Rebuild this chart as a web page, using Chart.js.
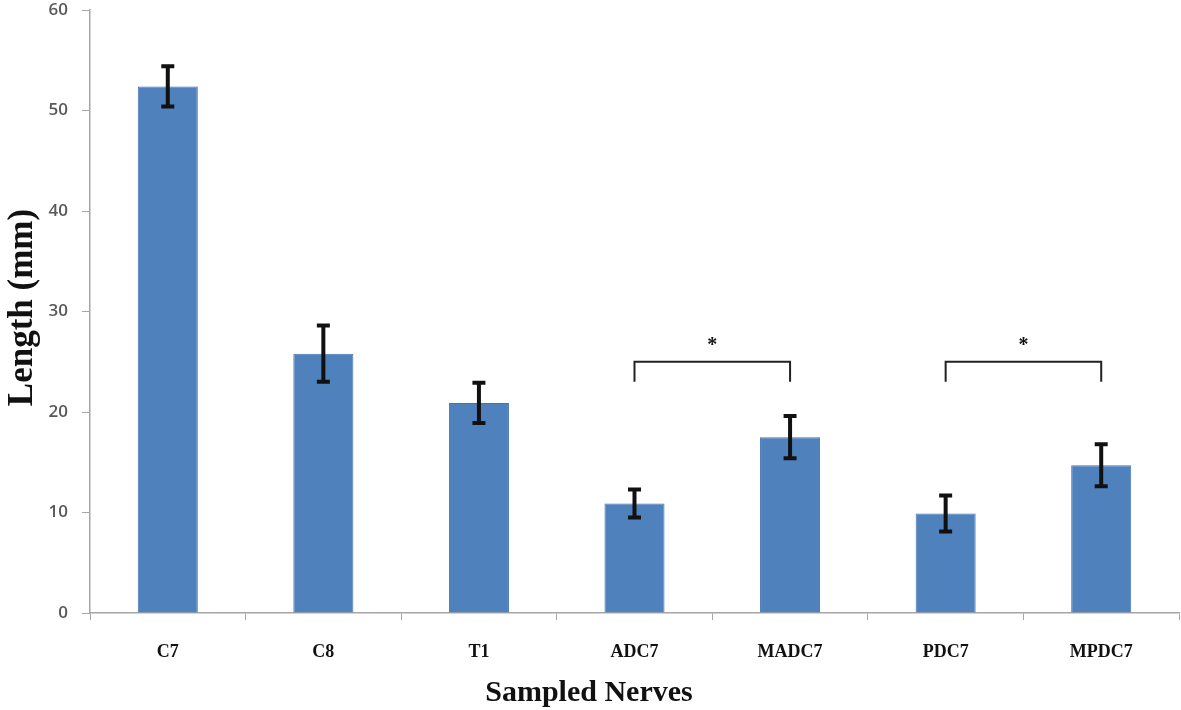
<!DOCTYPE html>
<html>
<head>
<meta charset="utf-8">
<script src="https://cdn.jsdelivr.net/npm/chart.js@4/dist/chart.umd.min.js"></script>
<style>
  html, body { margin: 0; padding: 0; background: #fff; }
  #wrap { width: 1181px; height: 710px; }
</style>
</head>
<body>
<div id="wrap"><canvas id="chart"></canvas></div>
<script>
const nerves = ['C7', 'C8', 'T1', 'ADC7', 'MADC7', 'PDC7', 'MPDC7'];
const lengthMm = [52.4, 25.8, 20.9, 10.9, 17.5, 9.9, 14.7];
const lengthErr = [2.0, 2.8, 2.0, 1.4, 2.1, 1.8, 2.1];
const yTicks = [0, 10, 20, 30, 40, 50, 60];
// significance brackets: [from, to, level, leg end, star level]
const brackets = [
  [3, 4, 25, 23, 27.0],
  [5, 6, 25, 23, 27.0],
];

const errorBars = {
  id: 'errorBars',
  afterDatasetsDraw(chart) {
    const { ctx } = chart;
    const y = chart.scales.y;
    const meta = chart.getDatasetMeta(0);
    ctx.save();
    ctx.strokeStyle = '#111';
    ctx.lineWidth = 4;
    meta.data.forEach((bar, i) => {
      const top = y.getPixelForValue(lengthMm[i] + lengthErr[i]);
      const bottom = y.getPixelForValue(lengthMm[i] - lengthErr[i]);
      ctx.beginPath();
      ctx.moveTo(bar.x, top);
      ctx.lineTo(bar.x, bottom);
      ctx.moveTo(bar.x - 6.5, top);
      ctx.lineTo(bar.x + 6.5, top);
      ctx.moveTo(bar.x - 6.5, bottom);
      ctx.lineTo(bar.x + 6.5, bottom);
      ctx.stroke();
    });
    ctx.restore();
  },
};

const annotations = {
  id: 'annotations',
  afterDraw(chart) {
    const { ctx, chartArea } = chart;
    const x = chart.scales.x;
    const y = chart.scales.y;
    ctx.save();
    ctx.strokeStyle = '#222';
    ctx.lineWidth = 2;
    ctx.fillStyle = '#111';
    brackets.forEach(([a, b, level, leg, star]) => {
      const x1 = x.getPixelForValue(a);
      const x2 = x.getPixelForValue(b);
      const yl = y.getPixelForValue(level);
      const yb = y.getPixelForValue(leg);
      ctx.beginPath();
      ctx.moveTo(x1, yb);
      ctx.lineTo(x1, yl);
      ctx.lineTo(x2, yl);
      ctx.lineTo(x2, yb);
      ctx.stroke();
      ctx.font = 'bold 20px "Liberation Serif"';
      ctx.textAlign = 'center';
      ctx.textBaseline = 'middle';
      ctx.fillText('*', (x1 + x2) / 2, y.getPixelForValue(star) + 4);
    });

    // axis titles
    ctx.fillStyle = '#111';
    ctx.textAlign = 'center';
    ctx.textBaseline = 'middle';
    ctx.font = 'bold 30px "Liberation Serif"';
    ctx.fillText('Sampled Nerves', chartArea.left + 499, 693);
    ctx.translate(23, (chartArea.top + chartArea.bottom) / 2 - 4);
    ctx.rotate(-Math.PI / 2);
    ctx.font = 'bold 35px "Liberation Serif"';
    ctx.fillText('Length (mm)', 0, 0);
    ctx.restore();
  },
};

new Chart(document.getElementById('chart'), {
  type: 'bar',
  data: {
    labels: nerves,
    datasets: [{
      data: lengthMm,
      backgroundColor: '#4F81BD',
      borderColor: '#4374B0',
      borderWidth: 1,
      barPercentage: 0.386,
      categoryPercentage: 1,
    }],
  },
  options: {
    responsive: true,
    maintainAspectRatio: false,
    animation: false,
    layout: { padding: { top: 10, right: 2, left: 0, bottom: 0 } },
    plugins: {
      legend: { display: false },
      tooltip: { enabled: false },
    },
    scales: {
      x: {
        afterFit(scale) { scale.height = 97; },
        border: { color: '#a6a6a6', width: 1.5 },
        grid: { drawOnChartArea: false, tickLength: 7, color: '#a6a6a6', offset: true },
        ticks: {
          color: '#111',
          padding: 22,
          font: { family: '"Liberation Serif"', size: 18, weight: 'bold' },
        },
      },
      y: {
        min: 0,
        max: 60,
        afterFit(scale) {
          scale.width = 90;
          scale.paddingTop = 0;
          scale.paddingBottom = 0;
        },
        afterBuildTicks(scale) { scale.ticks = yTicks.map((v) => ({ value: v })); },
        border: { color: '#a6a6a6', width: 1.5 },
        grid: { drawOnChartArea: false, tickLength: 8, color: '#a6a6a6' },
        ticks: {
          color: '#595959',
          padding: 14,
          font: { family: '"Open Sans"', size: 17, weight: '600' },
        },
      },
    },
  },
  plugins: [errorBars, annotations],
});
</script>
</body>
</html>
